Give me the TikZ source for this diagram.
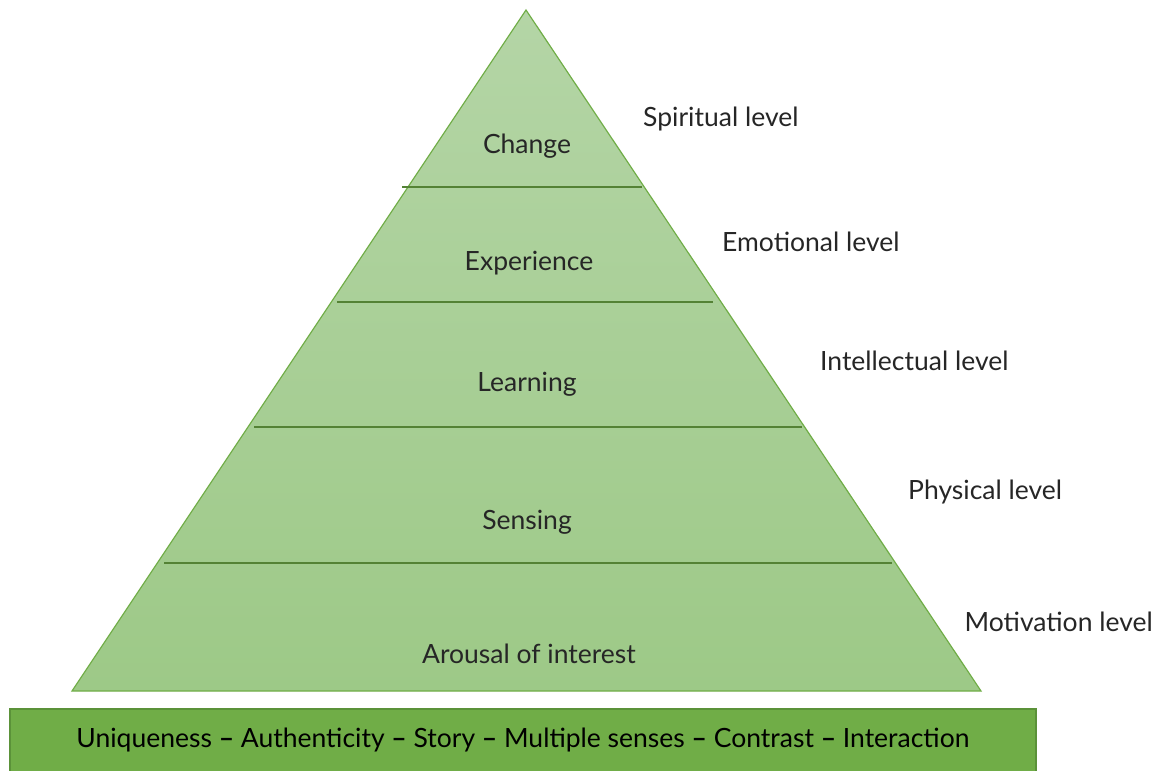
\documentclass[tikz,border=0pt]{standalone}
\usepackage{fontspec}
\setmainfont{Lato}
\definecolor{pyrtop}{HTML}{B4D5A6}
\definecolor{pyrbot}{HTML}{9DC987}
\definecolor{pyredge}{HTML}{70AD47}
\definecolor{pyrline}{HTML}{548235}
\definecolor{barfill}{HTML}{70AD47}
\definecolor{barline}{HTML}{5B9239}
\definecolor{txtgray}{HTML}{262626}

\newcommand{\sep}{ {\bfseries --} }

\tikzset{
  layer/.style={font=\fontsize{26.5}{30}\selectfont, text=txtgray, inner sep=0pt},
  levelname/.style={layer, anchor=west},
  divider/.style={draw=pyrline, line width=1.3pt},
}

\begin{document}
\begin{tikzpicture}[x=1pt,y=-1pt]
    \useasboundingbox (0,0) rectangle (1157,771);

    % the pyramid
    \shade[top color=pyrtop, bottom color=pyrbot, draw=pyredge, line width=1.2pt]
        (526,10) -- (981,691) -- (72,691) -- cycle;
    \draw[divider] (402,187) -- (642,187);
    \draw[divider] (337,302) -- (713,302);
    \draw[divider] (254,427) -- (802,427);
    \draw[divider] (164,563) -- (892,563);

    % layers
    \node[layer] (change)     at (527,146) {Change};
    \node[layer] (experience) at (529,263) {Experience};
    \node[layer] (learning)   at (527,384) {Learning};
    \node[layer] (sensing)    at (527,522) {Sensing};
    \node[layer] (arousal)    at (529,654) {Arousal of interest};

    % levels on the right
    \node[levelname] (spiritual)    at (643,119) {Spiritual level};
    \node[levelname] (emotional)    at (722,242) {Emotional level};
    \node[levelname] (intellectual) at (820,361) {Intellectual level};
    \node[levelname] (physical)     at (908,492) {Physical level};
    \node[layer, anchor=east] (motivation) at (1153,622) {Motivation level};

    % base bar
    \draw[fill=barfill, draw=barline, line width=2pt] (10,709) rectangle (1036,780);
    \node[layer, text=black] (factors) at (523,740)
        {Uniqueness\sep Authenticity\sep Story\sep Multiple senses\sep Contrast\sep Interaction};
\end{tikzpicture}
\end{document}
